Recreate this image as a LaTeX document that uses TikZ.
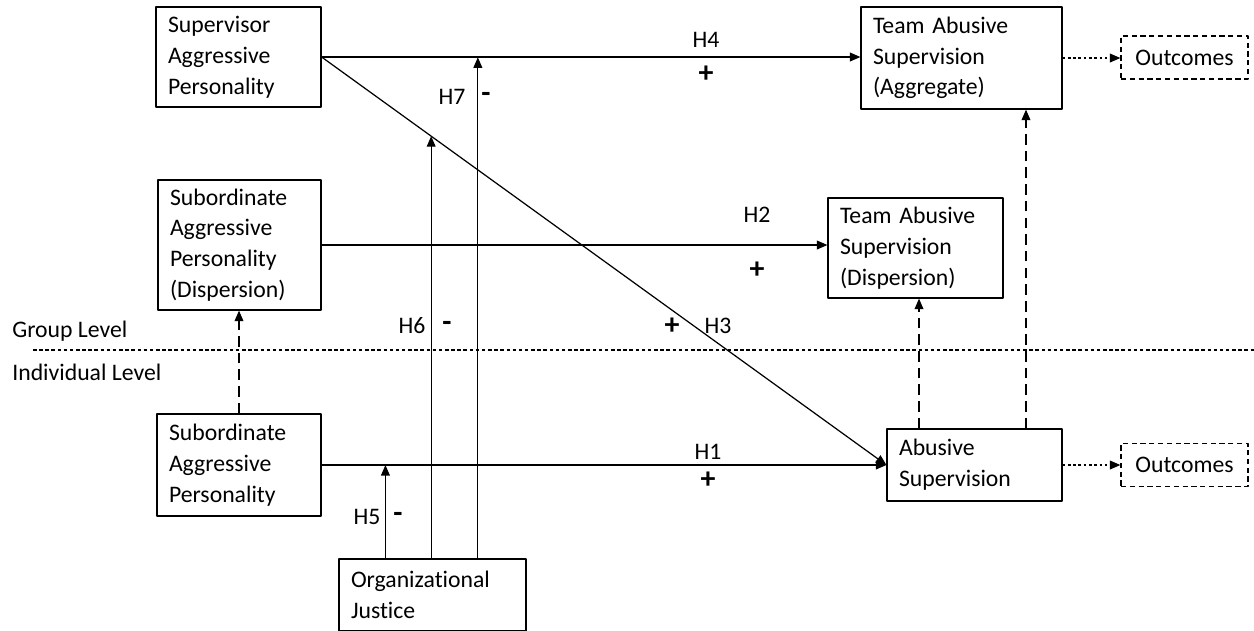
\documentclass[tikz,border=0pt]{standalone}
\usepackage{fontspec}
\setmainfont{Carlito}[Ligatures=NoCommon]
\usetikzlibrary{arrows.meta}
\tikzset{
  box/.style={draw, line width=0.7pt, align=left, inner xsep=0.24cm, inner ysep=0pt},
  outbox/.style={draw, line width=0.7pt, dash pattern=on 3pt off 2pt, minimum width=2.54cm, minimum height=0.86cm},
  link/.style={line width=0.7pt, ->},
  dlink/.style={line width=0.7pt, ->, dash pattern=on 6pt off 3.5pt},
  olink/.style={line width=0.7pt, ->, dash pattern=on 1.5pt off 1.5pt},
  sign/.style={font=\fontsize{17}{17}\selectfont\bfseries}
}
\begin{document}
\begin{tikzpicture}[x=0.02cm, y=-0.02cm, font=\fontsize{13.5}{17.5}\selectfont, line join=round, >={Triangle[length=6pt,width=5pt]}]
	\useasboundingbox (0,0) rectangle (1254,630);
	% boxes
	\node[box, text width=2.82cm, minimum height=2.0cm] (sap) at (238.5,57) {Supervisor\\Aggressive\\Personality};
	\node[box, text width=3.54cm, minimum height=2.04cm] (tasa) at (961.5,58) {Team Abusive\\Supervision\\(Aggregate)};
	\node[box, text width=2.78cm, minimum height=2.6cm] (sapd) at (239.5,245) {Subordinate\\Aggressive\\Personality\\(Dispersion)};
	\node[box, text width=3.02cm, minimum height=2.0cm] (tasd) at (915.5,248) {Team Abusive\\Supervision\\(Dispersion)};
	\node[box, text width=2.8cm, minimum height=2.04cm] (sapi) at (239,465) {Subordinate\\Aggressive\\Personality};
	\node[box, text width=3.02cm, minimum height=1.44cm] (as) at (974.5,465) {Abusive\\Supervision};
	\node[box, text width=3.26cm, minimum height=1.44cm] (oj) at (432.5,595) {Organizational\\Justice};
	\node[outbox] (out1) at (1184.5,57.5) {Outcomes};
	\node[outbox] (out2) at (1184.5,465) {Outcomes};
	% levels
	\node[anchor=west, inner sep=0] (grp) at (12,331) {Group Level};
	\node[anchor=west, inner sep=0] (ind) at (12,372) {Individual Level};
	\draw[line width=0.6pt, dash pattern=on 2pt off 1.5pt] (33,350)--(1254,350);
	% main effects
	\draw[link] (sap.east) -- (sap.east -| tasa.west);
	\draw[link] (sap.east) -- (as.west);
	\draw[link] (sapd.east) -- (sapd.east -| tasd.west);
	\draw[link] (sapi.east) -- (as.west);
	\draw[dlink] (sapi.north) -- (sapi.north |- sapd.south);
	\draw[dlink] ([xshift=-1.11cm]as.north) -- ([xshift=-1.11cm]as.north |- tasd.south);
	\draw[dlink] ([xshift=1.03cm]as.north) -- ([xshift=1.03cm]as.north |- tasa.south);
	\draw[olink] (tasa.east) -- (tasa.east -| out1.west);
	\draw[olink] (as.east) -- (as.east -| out2.west);
	% moderation
	\path (sapi.east) -- (as.west) coordinate[pos=0.113] (m5);
	\path (sap.east) -- (as.west) coordinate[pos=0.194] (m6);
	\path (sap.east) -- (tasa.west) coordinate[pos=0.29] (m7);
	\foreach \m in {m5,m6,m7}\draw[link] (oj.north -| \m) -- (\m);
	% hypotheses
	\foreach \n/\x/\y in {4/706/40,7/452/97,2/757/215,6/412/326,3/718/326,1/708/452,5/367/517}\node (h\n) at (\x,\y) {H\n};
	\foreach \n/\s/\x/\y in {4/+/706/74,7/-/486/97,2/+/757/270,6/-/447/326,3/+/672/326,1/+/708/480,5/-/398/517}\node[sign] (s\n) at (\x,\y) {\s};
\end{tikzpicture}
\end{document}
